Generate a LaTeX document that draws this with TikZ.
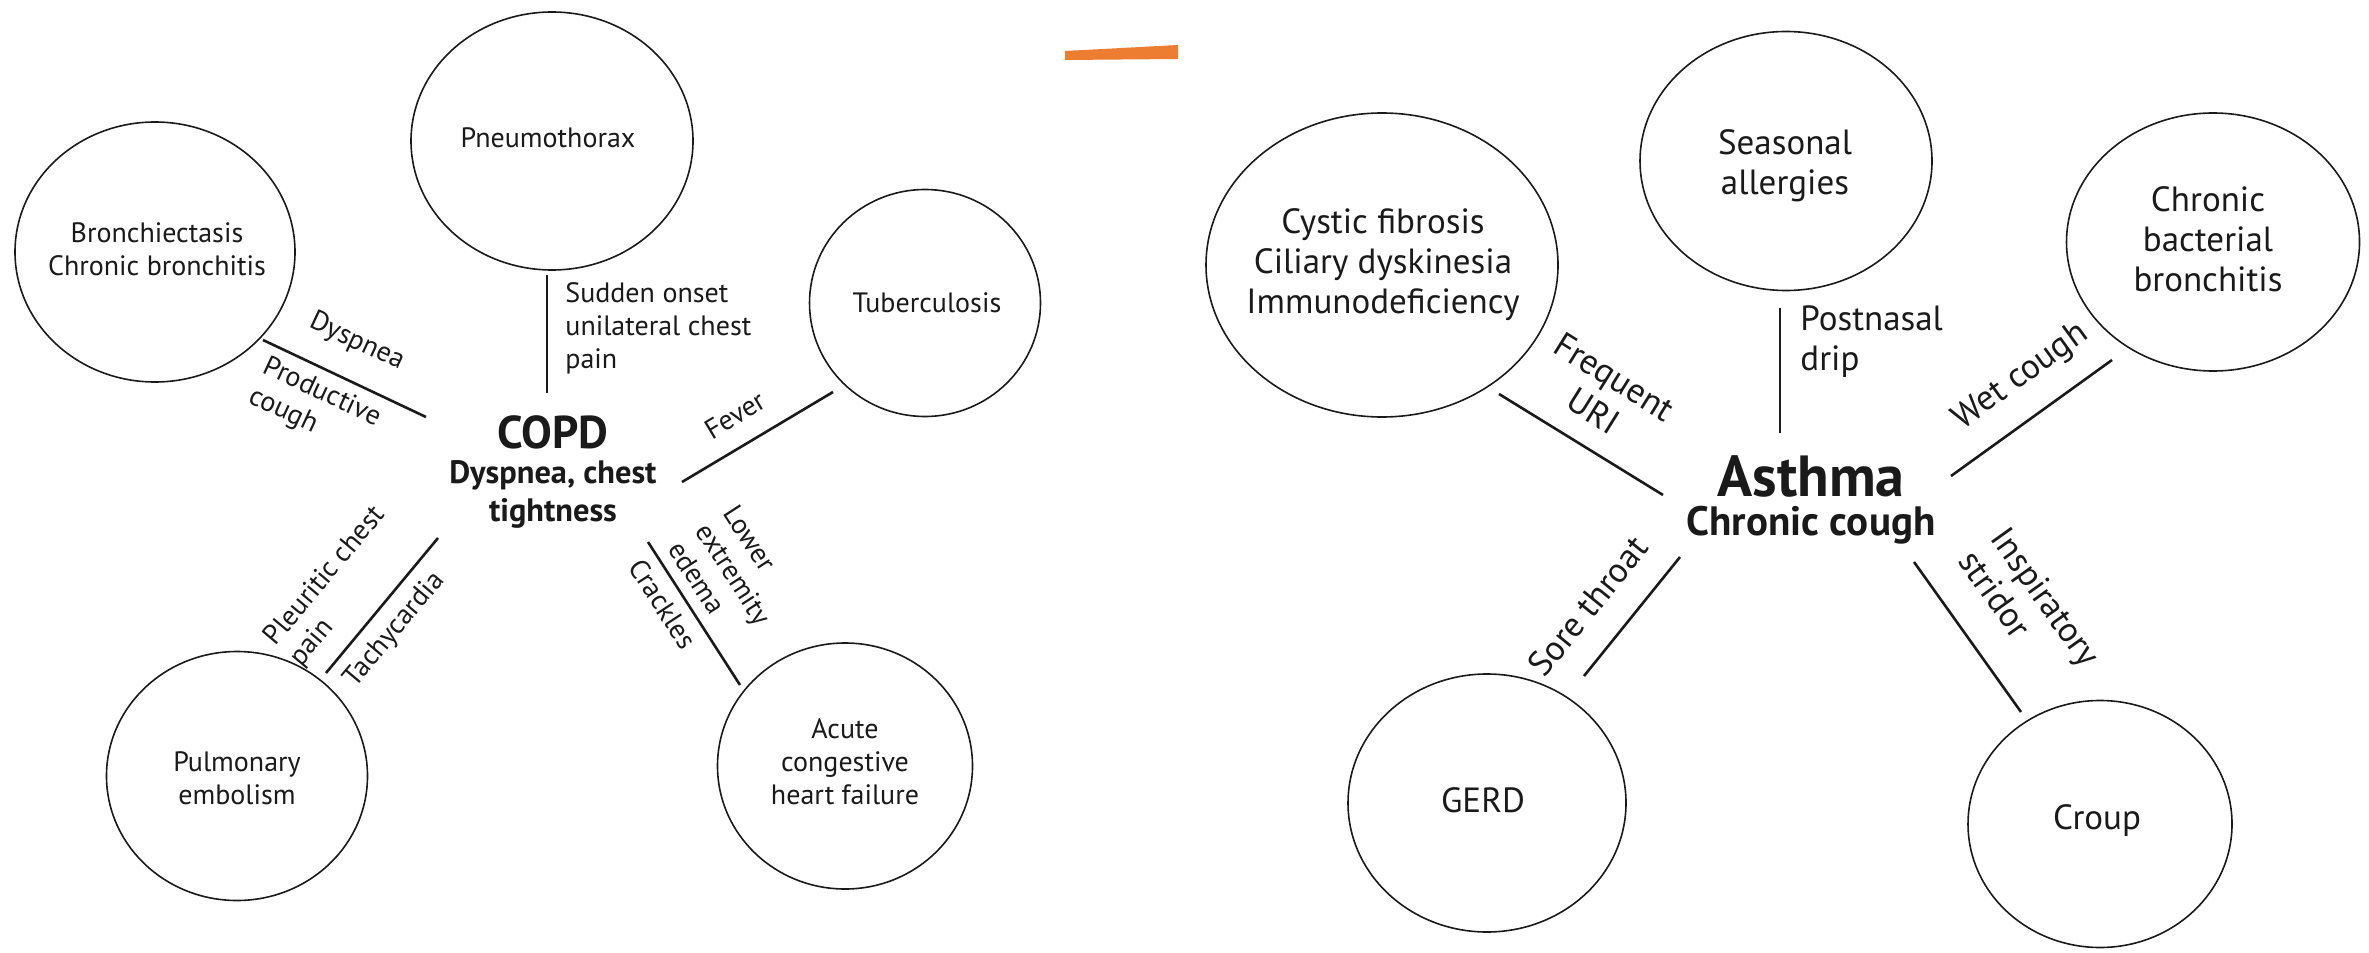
\documentclass[tikz,border=0pt]{standalone}
\usepackage{fontspec}
\setmainfont{PT Sans}
\usetikzlibrary{shapes.geometric}
\definecolor{ink}{HTML}{1A1A1A}
\definecolor{accent}{HTML}{ED7D31}
\begin{document}
\begin{tikzpicture}[x=0.5pt,y=-0.5pt,
  disease/.style={draw=ink, ellipse, line width=0.8pt, inner sep=0pt},
  conn/.style={draw=ink, line width=1.3pt},
  txtL/.style={text=ink, align=center, inner sep=0pt, font=\fontsize{14}{16.5}\selectfont},
  txtR/.style={text=ink, align=center, inner sep=0pt, font=\fontsize{17.5}{20}\selectfont},
  labL/.style={txtL, align=left},
  labR/.style={txtR, align=left},
  labRc/.style={txtR, align=center}]
\useasboundingbox (0,0) rectangle (2369,952);
\fill[white] (0,0) rectangle (2369,952);

% orange bar
\fill[accent] (1065,51) -- (1178,45) -- (1178,59) -- (1065,60) -- cycle;

% ===== COPD =====
\node[disease, minimum width=140pt, minimum height=130pt] (bron) at (155,252) {};
\node[txtL] (bront) at (157,249) {Bronchiectasis\\Chronic bronchitis};
\node[disease, minimum width=141pt, minimum height=129pt] (pneu) at (552,141) {};
\node[txtL] (pneut) at (548,138) {Pneumothorax};
\node[disease, minimum width=115.5pt, minimum height=113.5pt] (tb) at (925,303) {};
\node[txtL] (tbt) at (927,303) {Tuberculosis};
\node[disease, minimum width=130.5pt, minimum height=124.5pt] (pe) at (237,776) {};
\node[txtL] (pet) at (237,778) {Pulmonary\\embolism};
\node[disease, minimum width=127.5pt, minimum height=123pt] (chf) at (845,766) {};
\node[txtL] (chft) at (845,762) {Acute\\congestive\\heart failure};

\node[text=ink, inner sep=0pt, font=\fontsize{23}{27}\selectfont\bfseries] (copd) at (553,432) {COPD};
\node[text=ink, inner sep=0pt, align=center, font=\fontsize{16.2}{19}\selectfont\bfseries] (copds) at (553,494) {Dyspnea, chest\\tightness};

\coordinate (b1) at (263,340); \coordinate (b2) at (426,417);
\coordinate (p1) at (547,275); \coordinate (p2) at (547,393);
\coordinate (t1) at (833,392); \coordinate (t2) at (682,482);
\coordinate (e1) at (326,673); \coordinate (e2) at (438,538);
\coordinate (h1) at (740,685); \coordinate (h2) at (648,542);
\draw[conn] (b1) -- (b2);
\draw[conn] (p1) -- (p2);
\draw[conn] (t1) -- (t2);
\draw[conn] (e1) -- (e2);
\draw[conn] (h1) -- (h2);

\node[labL, rotate=-25] (ldys) at (357,342) {Dyspnea};
\node[labL, rotate=-25] (lprod) at (315,408) {Productive\\cough};
\node[labL, anchor=west] (lsud) at (565,328) {Sudden onset\\unilateral chest\\pain};
\node[labL, rotate=31] (lfev) at (735,415) {Fever};
\node[labL, rotate=50] (lpleu) at (338,587) {Pleuritic chest\\pain};
\node[labL, rotate=50] (ltach) at (395,630) {Tachycardia};
\node[labL, rotate=-57] (llow) at (734,574) {Lower\\extremity\\edema};
\node[labL, rotate=-57] (lcrack) at (663,604) {Crackles};

% ===== Asthma =====
\node[disease, minimum width=176pt, minimum height=152pt] (cf) at (1382,265) {};
\node[txtR] (cft) at (1383,265) {Cystic fibrosis\\Ciliary dyskinesia\\Immunodeficiency};
\node[disease, minimum width=146pt, minimum height=129.5pt] (sa) at (1786,161) {};
\node[txtR] (sat) at (1785,166) {Seasonal\\allergies};
\node[disease, minimum width=146.5pt, minimum height=129pt] (cbb) at (2213,242) {};
\node[txtR] (cbbt) at (2208,239) {Chronic\\bacterial\\bronchitis};
\node[disease, minimum width=139pt, minimum height=129pt] (gerd) at (1487,803) {};
\node[txtR] (gerdt) at (1483,800) {GERD};
\node[disease, minimum width=132pt, minimum height=123.5pt] (croup) at (2100,824) {};
\node[txtR] (croupt) at (2097,821) {Croup};

\node[text=ink, inner sep=0pt, font=\fontsize{29}{34}\selectfont\bfseries] (asth) at (1811,476) {Asthma};
\node[text=ink, inner sep=0pt, font=\fontsize{20.5}{24}\selectfont\bfseries] (asths) at (1811,525) {Chronic cough};

\coordinate (c1) at (1499,394); \coordinate (c2) at (1663,495);
\coordinate (s1) at (1780,308); \coordinate (s2) at (1780,433);
\coordinate (w1) at (2112,360); \coordinate (w2) at (1951,476);
\coordinate (g1) at (1584,676); \coordinate (g2) at (1680,557);
\coordinate (r1) at (2021,712); \coordinate (r2) at (1914,562);
\draw[conn] (c1) -- (c2);
\draw[conn] (s1) -- (s2);
\draw[conn] (w1) -- (w2);
\draw[conn] (g1) -- (g2);
\draw[conn] (r1) -- (r2);

\node[labRc, rotate=-32] (lfreq) at (1604,394) {Frequent\\URI};
\node[labR, anchor=west] (lpost) at (1800,342) {Postnasal\\drip};
\node[labR, rotate=36] (lwet) at (2021,377) {Wet cough};
\node[labR, rotate=51] (lsore) at (1588,606) {Sore throat};
\node[labR, rotate=-54.5] (linsp) at (2030,608) {Inspiratory\\stridor};
\end{tikzpicture}
\end{document}
